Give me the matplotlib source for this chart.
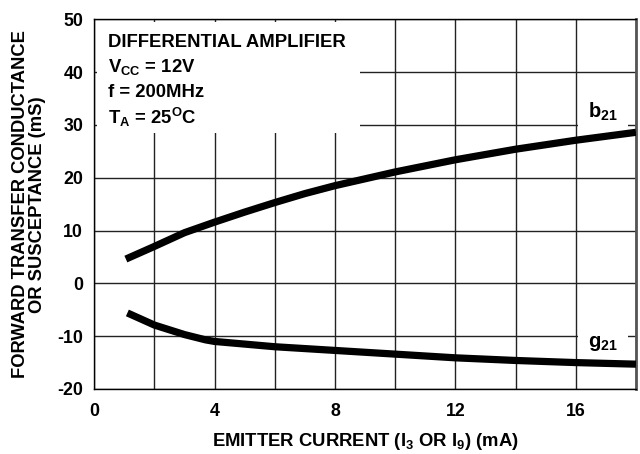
"""
Forward transfer conductance / susceptance vs. emitter current
for the differential amplifier at 200 MHz.
"""

import matplotlib.pyplot as plt
from matplotlib.patches import Rectangle
from matplotlib.ticker import MultipleLocator

plt.rcParams["font.family"] = ["Liberation Sans", "DejaVu Sans"]
plt.rcParams["font.weight"] = "bold"
plt.rcParams["axes.labelweight"] = "bold"
plt.rcParams["axes.unicode_minus"] = False
plt.rcParams["mathtext.fontset"] = "custom"
plt.rcParams["mathtext.rm"] = "Liberation Sans:bold"
plt.rcParams["mathtext.it"] = "Liberation Sans:bold"
plt.rcParams["mathtext.bf"] = "Liberation Sans:bold"

# emitter current (mA) and forward transfer susceptance b21 (mS)
b21_current = [1.05, 2, 3, 4, 5, 6, 7, 8, 10, 12, 14, 16, 18]
b21_ms = [4.6, 7.0, 9.6, 11.6, 13.5, 15.3, 17.0, 18.5, 21.1, 23.4, 25.4, 27.1, 28.6]

# emitter current (mA) and forward transfer conductance g21 (mS)
g21_current = [1.1, 2, 3, 3.7, 4, 6, 8, 10, 12, 14, 16, 18]
g21_ms = [-5.6, -7.9, -9.7, -10.7, -11.0, -12.0, -12.7, -13.4, -14.1, -14.6, -15.0, -15.3]

x_ticks = [0, 4, 8, 12, 16]
y_ticks = [-20, -10, 0, 10, 20, 30, 40, 50]

conditions = [
    "DIFFERENTIAL AMPLIFIER",
    r"V$_{\mathregular{CC}}$ = 12V",
    "f = 200MHz",
    r"T$_{\mathregular{A}}$ = 25$^{\mathregular{O}}$C",
]

fig = plt.figure(figsize=(6.4, 4.54), dpi=100)
ax = fig.add_axes([0.1473, 0.1432, 0.8464, 0.8143])

ax.set_xlim(0, 18)
ax.set_ylim(-20, 50)
ax.set_xticks(x_ticks)
ax.xaxis.set_minor_locator(MultipleLocator(2))
ax.set_yticks(y_ticks)

ax.set_axisbelow(True)
ax.grid(which="both", color="#222222", linewidth=1.0)
ax.tick_params(which="both", direction="in", length=0, labelsize=12.8,
               top=True, right=True)
ax.tick_params(axis="x", pad=10)
ax.tick_params(axis="y", pad=8)
for lbl in ax.get_xticklabels() + ax.get_yticklabels():
    lbl.set_fontweight("bold")

for side in ax.spines.values():
    side.set_linewidth(1.0)
ax.spines["right"].set_color("#555555")
ax.spines["right"].set_linewidth(2.0)

# white panels so the grid breaks behind the annotations
ax.add_patch(Rectangle((0.1, 28.5), 8.73, 20.95, facecolor="white",
                       edgecolor="none", zorder=1))
ax.add_patch(Rectangle((16.06, 28.8), 1.67, 5.5, facecolor="white",
                       edgecolor="none", zorder=1))
ax.add_patch(Rectangle((16.06, -13.0), 1.67, 4.5, facecolor="white",
                       edgecolor="none", zorder=1))

ax.plot(b21_current, b21_ms, color="black", linewidth=5.2,
        solid_capstyle="butt", zorder=3)
ax.plot(g21_current, g21_ms, color="black", linewidth=5.2,
        solid_capstyle="butt", zorder=3)

for i, line in enumerate(conditions):
    ax.text(0.45, 45.7 - 4.75 * i, line, fontsize=13.3, fontweight="bold",
            ha="left", va="center", zorder=4)

ax.text(16.9, 32.4, r"b$_{\mathregular{21}}$", fontsize=14.5,
        fontweight="bold", ha="center", va="center", zorder=4)
ax.text(16.9, -11.3, r"g$_{\mathregular{21}}$", fontsize=14.5,
        fontweight="bold", ha="center", va="center", zorder=4)

ax.set_xlabel(r"EMITTER CURRENT (I$_{\mathregular{3}}$ OR I$_{\mathregular{9}}$) (mA)",
              fontsize=13.3, fontweight="bold", labelpad=8)
fig.text(29 / 640, 0.55, "FORWARD TRANSFER CONDUCTANCE\nOR SUSCEPTANCE (mS)",
         rotation=90, ha="center", va="center", fontsize=13.2,
         fontweight="bold", linespacing=1.0)

fig.savefig("out.png", dpi=100)
